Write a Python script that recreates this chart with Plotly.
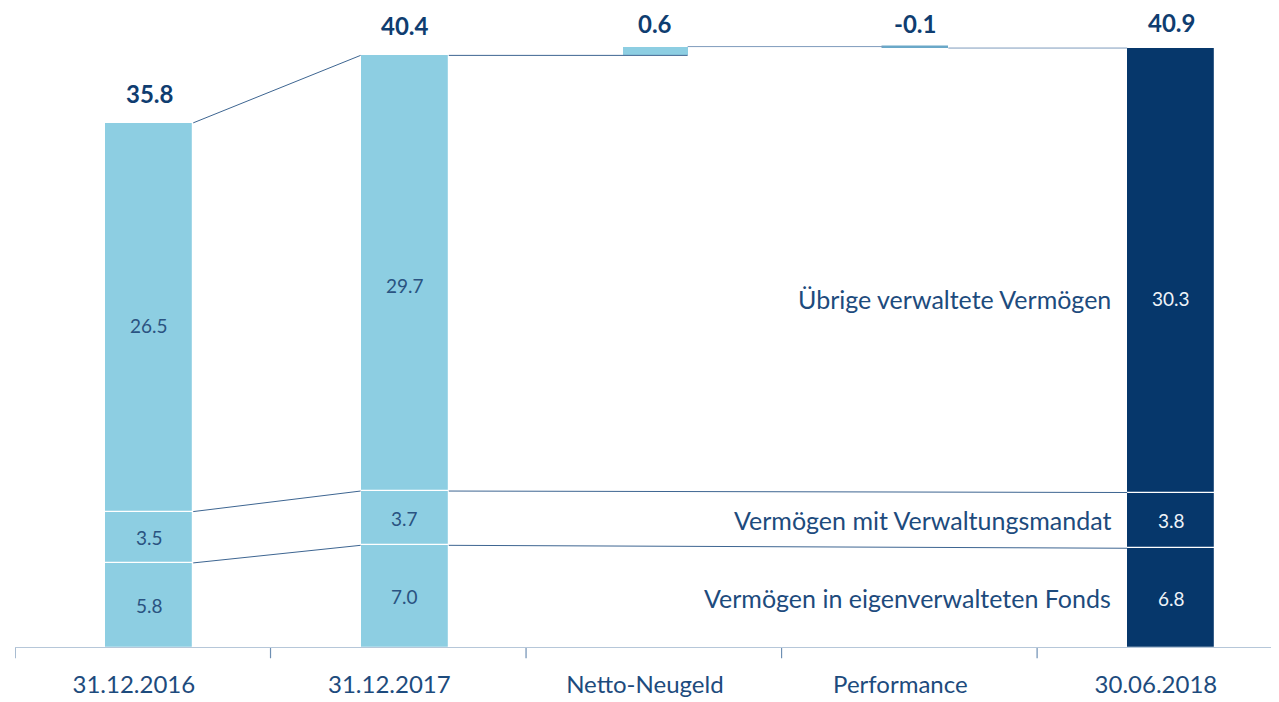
import plotly.graph_objects as go

categories = ["31.12.2016", "31.12.2017", "Netto-Neugeld", "Performance", "30.06.2018"]
fonds = [5.8, 7.0, None, None, 6.8]          # Vermögen in eigenverwalteten Fonds
mandat = [3.5, 3.7, None, None, 3.8]         # Vermögen mit Verwaltungsmandat
uebrige = [26.5, 29.7, None, None, 30.3]     # Übrige verwaltete Vermögen
totals = [35.8, 40.4, None, None, 40.9]
netto_neugeld = 0.6
performance = -0.1
segment_names = ["Vermögen in eigenverwalteten Fonds", "Vermögen mit Verwaltungsmandat",
                 "Übrige verwaltete Vermögen"]

LIGHT = "#8dcee2"
DARK = "#06376b"
PERF = "#6aa8c8"
TXT = "#1d4b7d"
CONN = "#3d6591"
FONT = "Lato"

stack_idx = [0, 1, 4]
bar_colors = [LIGHT, LIGHT, None, None, DARK]
W = 0.345
WS = 0.255
XOFF = 0.025

fig = go.Figure()

segs = [fonds, mandat, uebrige]
for s_i, seg in enumerate(segs):
    xs, ys, bases, cols = [], [], [], []
    for i in stack_idx:
        base = sum(segs[k][i] for k in range(s_i))
        xs.append(i + XOFF)
        ys.append(seg[i])
        bases.append(base)
        cols.append(bar_colors[i])
    fig.add_trace(go.Bar(x=xs, y=ys, base=bases, width=W, name=segment_names[s_i],
                         marker=dict(color=cols, line=dict(color="white", width=1.2)),
                         hoverinfo="skip", showlegend=False))

start_nn = totals[1]
fig.add_trace(go.Bar(x=[2 + 0.005], y=[netto_neugeld], base=[start_nn], width=WS,
                     marker=dict(color=LIGHT, line=dict(width=0)), showlegend=False, hoverinfo="skip"))
start_pf = totals[1] + netto_neugeld
fig.add_trace(go.Bar(x=[3 + XOFF], y=[performance], base=[start_pf], width=WS,
                     marker=dict(color=PERF, line=dict(color=PERF, width=1.5)), showlegend=False, hoverinfo="skip"))

shapes = []
def line(x0, y0, x1, y1, color=CONN, w=1):
    shapes.append(dict(type="line", xref="x", yref="y", x0=x0, y0=y0, x1=x1, y1=y1,
                       line=dict(color=color, width=w)))

cum16 = [fonds[0], fonds[0] + mandat[0], totals[0]]
cum17 = [fonds[1], fonds[1] + mandat[1], totals[1]]
cum18 = [fonds[4], fonds[4] + mandat[4], totals[4]]
for a, b in zip(cum16, cum17):
    line(0 + XOFF + W / 2, a, 1 + XOFF - W / 2, b)
for a, b in zip(cum17[:2], cum18[:2]):
    line(1 + XOFF + W / 2, a, 4 + XOFF - W / 2, b)
line(1 + XOFF + W / 2, totals[1], 2 + 0.005 + WS / 2, totals[1])
line(2 + 0.005 + WS / 2, start_nn + netto_neugeld, 3 + XOFF - WS / 2, start_pf, color="#7f9cbc")
line(3 + XOFF + WS / 2, start_pf + performance, 4 + XOFF - W / 2, totals[4], color="#7f9cbc")

shapes.append(dict(type="line", xref="paper", yref="y", x0=0, x1=1, y0=0, y1=0,
                   line=dict(color="#6e8fb3", width=1.2)))
for t in [-0.5, 0.5, 1.5, 2.5, 3.5]:
    shapes.append(dict(type="line", xref="x", yref="paper", x0=t, x1=t, y0=0, y1=-0.016,
                       line=dict(color="#6e8fb3", width=1.2)))

annotations = []
top_vals = [(0, totals[0], f"{totals[0]:.1f}", XOFF, 13), (1, totals[1], f"{totals[1]:.1f}", XOFF, 13),
            (2, start_nn + netto_neugeld, f"{netto_neugeld:.1f}", 0.005, 7),
            (3, start_pf, f"{performance:.1f}", XOFF, 7), (4, totals[4], f"{totals[4]:.1f}", XOFF, 9)]
for i, y, t, off, ysh in top_vals:
    annotations.append(dict(x=i + off, y=y, text=f"<b>{t}</b>", showarrow=False, yanchor="bottom",
                            yshift=ysh, font=dict(family=FONT, size=24, color="#0f3d70")))

top_label_y = {0: 22.0, 1: 24.7, 4: 23.8}
for i in stack_idx:
    tc = "#eef3f8" if i == 4 else "#2a5381"
    ys = [fonds[i] / 2, fonds[i] + mandat[i] / 2, top_label_y[i]]
    vals = [fonds[i], mandat[i], uebrige[i]]
    for yv, v in zip(ys, vals):
        annotations.append(dict(x=i + XOFF, y=yv, text=f"{v:.1f}", showarrow=False,
                                font=dict(family=FONT, size=19, color=tc)))

seg_label_y = [fonds[4] / 2, fonds[4] + mandat[4] / 2, top_label_y[4]]
for name, yv in zip(segment_names, seg_label_y):
    annotations.append(dict(x=4 + XOFF - W / 2, y=yv, text=name, showarrow=False, xanchor="right",
                            xshift=-14, font=dict(family=FONT, size=25, color=TXT)))

fig.update_layout(
    width=1279, height=702,
    margin=dict(l=7, r=0, t=0, b=62),
    paper_bgcolor="white", plot_bgcolor="white",
    barmode="overlay", bargap=0,
    showlegend=False,
    shapes=shapes, annotations=annotations,
    xaxis=dict(range=[-0.5, 4.478], tickvals=[i - 0.035 for i in range(5)], ticktext=categories,
               showgrid=False, zeroline=False, showline=False, ticks="",
               tickfont=dict(family=FONT, size=24, color=TXT), ticklabelstandoff=20),
    yaxis=dict(range=[0, 43.63], visible=False, showgrid=False, zeroline=False),
)

fig.write_html("out.html")
